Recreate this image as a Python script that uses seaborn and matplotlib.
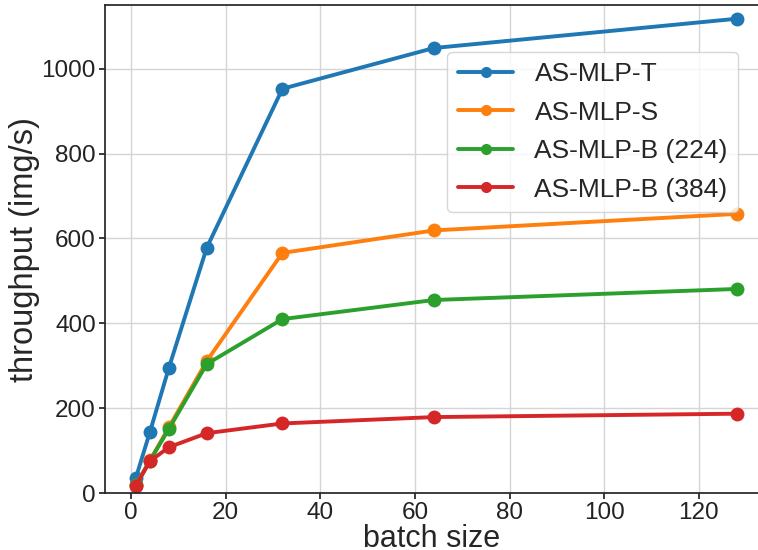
import pandas as pd
import seaborn as sns
import matplotlib.pyplot as plt

# batch sizes and throughput (img/s)
batch = [1, 4, 8, 16, 32, 64, 128]
tput_t = [35, 144, 295, 578, 953, 1049, 1118]
tput_s = [18, 77, 155, 311, 566, 619, 658]
tput_b224 = [18, 76, 151, 304, 410, 455, 481]
tput_b384 = [17, 75, 108, 141, 164, 179, 187]
models = ["AS-MLP-T", "AS-MLP-S", "AS-MLP-B (224)", "AS-MLP-B (384)"]

df = pd.DataFrame({
    "batch size": batch * 4,
    "throughput (img/s)": tput_t + tput_s + tput_b224 + tput_b384,
    "model": [m for m in models for _ in batch],
})

sns.set_theme(style="ticks", rc={"axes.grid": True})
plt.rcParams["font.family"] = ["Liberation Sans", "DejaVu Sans"]

fig = plt.figure(figsize=(7.58, 5.5), dpi=100)
ax = fig.add_axes([0.1385, 0.1036, 0.8615, 0.887])

sns.lineplot(data=df, x="batch size", y="throughput (img/s)", hue="model",
             palette="tab10", marker="o", markersize=10, markeredgewidth=0,
             linewidth=2.8, ax=ax)

ax.set_xlim(-5.5, 132.5)
ax.set_ylim(0, 1150)
ax.set_xticks([0, 20, 40, 60, 80, 100, 120])
ax.set_yticks([0, 200, 400, 600, 800, 1000])
ax.tick_params(labelsize=17.5, colors="#222222", length=4.5, pad=2)
ax.set_xlabel("batch size", fontsize=22, labelpad=0)
ax.set_ylabel("throughput (img/s)", fontsize=23.5, labelpad=1)
ax.spines["right"].set_visible(False)
ax.grid(color="#d5d5d5", linewidth=1)

leg = ax.legend(loc="upper right", bbox_to_anchor=(0.97, 0.905), fontsize=19,
                frameon=True, handlelength=2.1, markerscale=0.8,
                labelspacing=0.55, borderaxespad=0)
leg.get_frame().set_edgecolor("#cccccc")

fig.savefig("out.png", dpi=100)
